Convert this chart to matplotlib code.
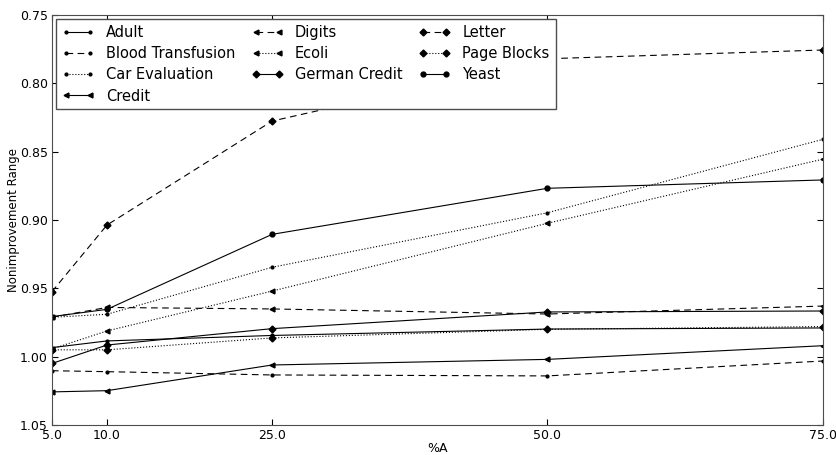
import matplotlib
matplotlib.use("Agg")
import matplotlib.pyplot as plt

pct_a = [5.0, 10.0, 25.0, 50.0, 75.0]

adult = [0.9934, 0.9885, 0.9845, 0.9798, 0.9790]
blood_transfusion = [1.0103, 1.0110, 1.0134, 1.0141, 1.0032]
car_evaluation = [0.9712, 0.9690, 0.9346, 0.8947, 0.8410]
credit = [1.0258, 1.0249, 1.0061, 1.0020, 0.9920]
digits = [0.9712, 0.9640, 0.9651, 0.9688, 0.9630]
ecoli = [0.9944, 0.9812, 0.9520, 0.9024, 0.8555]
german_credit = [1.0050, 0.9915, 0.9795, 0.9673, 0.9666]
letter = [0.9525, 0.9037, 0.8276, 0.7820, 0.7756]
page_blocks = [0.9950, 0.9950, 0.9863, 0.9800, 0.9780]
yeast = [0.9707, 0.9654, 0.9105, 0.8768, 0.8707]

discontinua = (0, (6, 4))

series = [
    ("Adult", adult, "-", "."),
    ("Blood Transfusion", blood_transfusion, discontinua, "."),
    ("Car Evaluation", car_evaluation, ":", "."),
    ("Credit", credit, "-", "<"),
    ("Digits", digits, discontinua, "<"),
    ("Ecoli", ecoli, ":", "<"),
    ("German Credit", german_credit, "-", "D"),
    ("Letter", letter, discontinua, "D"),
    ("Page Blocks", page_blocks, ":", "D"),
    ("Yeast", yeast, "-", "o"),
]

marker_sizes = {".": 4, "<": 3.5, "D": 3.5, "o": 3.5}

fig = plt.figure(figsize=(8.37, 4.55), dpi=100)
ax = fig.add_axes([0.062, 0.066, 0.921, 0.901])

for nombre, valores, estilo, marcador in series:
    ax.plot(
        pct_a,
        valores,
        linestyle=estilo,
        marker=marcador,
        color="k",
        linewidth=0.8,
        markersize=marker_sizes[marcador],
        label=nombre,
    )

ax.set_xlim(5, 75)
ax.set_ylim(1.05, 0.75)
ax.set_xticks(pct_a)
ax.set_xticklabels([f"{v:.1f}" for v in pct_a])
ax.set_yticks([0.75, 0.80, 0.85, 0.90, 0.95, 1.00, 1.05])
ax.set_yticklabels(["0.75", "0.80", "0.85", "0.90", "0.95", "1.00", "1.05"])
ax.tick_params(direction="in", top=True, right=True, labelsize=9, length=4, pad=3)
for spine in ax.spines.values():
    spine.set_color("0.3")

ax.set_xlabel("%A", fontsize=9, labelpad=0)
ax.set_ylabel("Nonimprovement Range", fontsize=8.5, labelpad=0)

leg = ax.legend(
    loc="upper left",
    ncol=3,
    fontsize=10.5,
    numpoints=2,
    fancybox=False,
    handlelength=2.2,
    columnspacing=1.1,
    labelspacing=0.42,
    borderaxespad=0.3,
    framealpha=1,
)
leg.get_frame().set_edgecolor("0.3")

fig.savefig("out.png", dpi=100)
